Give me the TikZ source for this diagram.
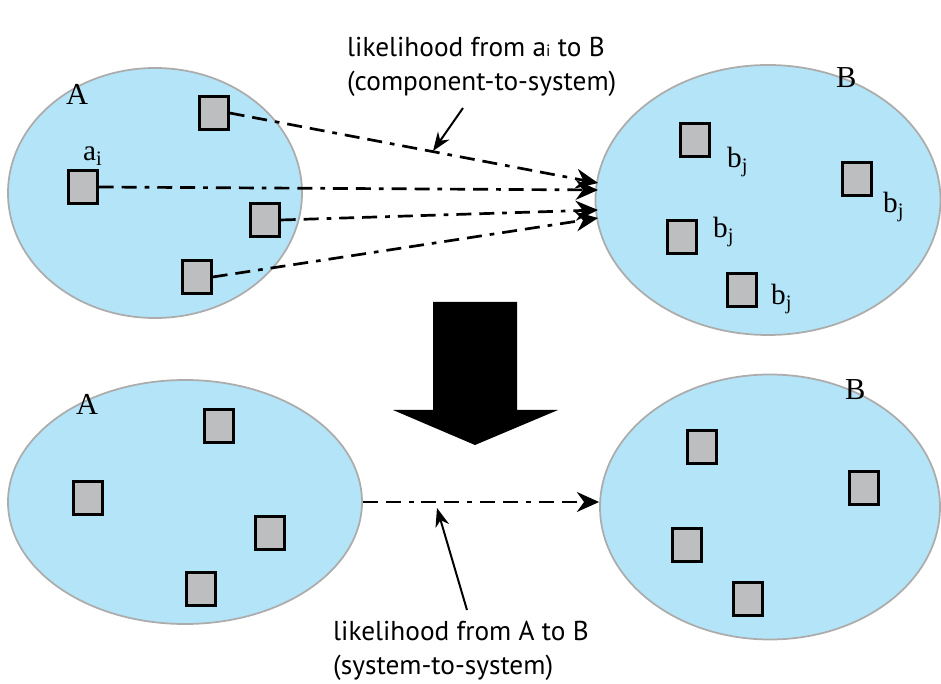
\documentclass[tikz,border=0pt]{standalone}
\usepackage{fontspec}
\setmainfont{Liberation Serif}
\newfontfamily\notefont{PT Sans}
\usetikzlibrary{arrows.meta,shapes.geometric,positioning}
\definecolor{skyblue}{RGB}{180,228,247}
\definecolor{rimgray}{RGB}{172,172,172}
\definecolor{boxgray}{RGB}{188,190,192}

\begin{document}
\begin{tikzpicture}[x=0.03cm, y=-0.03cm,
			system/.style={draw=rimgray, line width=1.5pt, fill=skyblue, ellipse, inner sep=0pt},
			comp/.style={draw, rectangle, line width=2pt, fill=boxgray, minimum width=0.87cm, minimum height=0.99cm, inner sep=0pt},
			sysLabel/.style={font=\fontsize{26}{26}\selectfont, anchor=base west, inner sep=0pt},
			compLabel/.style={font=\fontsize{25}{25}\selectfont, anchor=base west, inner sep=0pt},
			note/.style={font=\notefont\fontsize{23.3}{23.3}\selectfont, anchor=base west, inner sep=0pt},
			likely/.style={line width=2.3pt, dash pattern=on 12.8pt off 6.8pt on 12.8pt off 6.8pt on 4pt off 6.8pt, -{Stealth[length=19pt, width=17pt]}},
			pointer/.style={line width=1.7pt, -{Stealth[length=16pt, width=12pt]}},
			]
			\useasboundingbox (0,0) rectangle (941,684);
			
			% top: component-to-system
			\draw node[system, minimum width=8.82cm, minimum height=7.5cm] (sysA1) at (155,193) {};
			\draw node[system, minimum width=10.35cm, minimum height=8.1cm] (sysB1) at (768,200) {};
			\draw node[sysLabel] (labA1) at (66,105) {A};
			\draw node[sysLabel] (labB1) at (836,88) {B};
			
			\foreach \n/\x/\y in {1/214/113, 2/83/187, 3/265/220, 4/197/277}
			{\draw node[comp] (a\n) at (\x,\y) {};}
			\draw node[compLabel] (labAi) at (83,161) {a$_{\mathrm{i}}$};
			
			\foreach \n/\x/\y in {1/695/140, 2/857/179, 3/682/237, 4/742/290}
			{\draw node[comp] (b\n) at (\x,\y) {};}
			\foreach \n/\x/\y in {1/727/168, 2/883/213, 3/713/238, 4/771/305}
			{\draw node[compLabel] (labB\n) at (\x,\y) {b$_{\mathrm{j}}$};}
			
			% arrow ends on B
			\coordinate (tip1) at (598,183);
			\coordinate (tip2) at (598,190);
			\coordinate (tip3) at (598,210);
			\coordinate (tip4) at (598,218);
			\foreach \x in {1,...,4}
			\draw [likely] (a\x.east) -- (tip\x);
			
			\draw node[note] (topNote1) at (347,57) {likelihood from a{\fontsize{14}{14}\selectfont i} to B};
			\draw node[note] (topNote2) at (347,91) {(component-to-system)};
			\coordinate (topFrom) at (463,108);
			\coordinate (topTo) at (433,151);
			\draw [pointer] (topFrom) -- (topTo);
			
			% big arrow
			\fill (433,302) -- (517,302) -- (517,410) -- (558,410) -- (475,445) -- (393,410) -- (433,410) -- cycle;
			
			% bottom: system-to-system
			\draw node[system, minimum width=10.62cm, minimum height=7.32cm] (sysA2) at (185,502) {};
			\draw node[system, minimum width=10.2cm, minimum height=7.95cm] (sysB2) at (770,507) {};
			\draw node[sysLabel] (labA2) at (76,415) {A};
			\draw node[sysLabel] (labB2) at (845,400) {B};
			
			\foreach \n/\x/\y in {1/219/426, 2/88/498, 3/270/533, 4/201/589}
			{\draw node[comp] (c\n) at (\x,\y) {};}
			\foreach \n/\x/\y in {1/702/447, 2/864/488, 3/687/545, 4/748/599}
			{\draw node[comp] (d\n) at (\x,\y) {};}
			
			\draw [likely] (sysA2.east) -- (sysB2.west |- sysA2.east);
			
			\draw node[note] (botNote1) at (333,640) {likelihood from A to B};
			\draw node[note] (botNote2) at (333,674) {(system-to-system)};
			\coordinate (botFrom) at (467,610);
			\coordinate (botTo) at (437,508);
			\draw [pointer] (botFrom) -- (botTo);
			
		\end{tikzpicture}
\end{document}
